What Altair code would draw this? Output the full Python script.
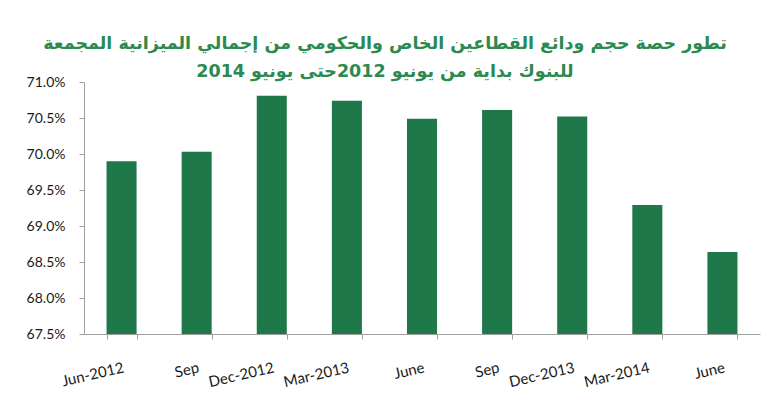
import altair as alt
import pandas as pd

labels = ["Jun-2012", "Sep", "Dec-2012", "Mar-2013", "June", "Sep", "Dec-2013", "Mar-2014", "June"]
values = [69.90, 70.03, 70.81, 70.74, 70.49, 70.61, 70.52, 69.29, 68.64]
y_ticks = [67.5, 68.0, 68.5, 69.0, 69.5, 70.0, 70.5, 71.0]
title_lines = [
    "تطور حصة حجم  ودائع القطاعين  الخاص والحكومي من إجمالي الميزانية المجمعة",
    "للبنوك بداية من يونيو 2012حتى يونيو 2014",
]

df = pd.DataFrame({
    "key": [f"{i}|{l}" for i, l in enumerate(labels)],
    "value": values,
})

bars = alt.Chart(df).mark_bar(color="#1f784a").encode(
    x=alt.X("key:N", sort=None, title=None,
            scale=alt.Scale(paddingInner=0.6, paddingOuter=0.3),
            axis=alt.Axis(labelExpr="split(datum.value, '|')[1]",
                          labelAngle=-13, labelAlign="right", labelBaseline="top",
                          labelPadding=21, tickBand="extent", tickSize=5,
                          domainColor="#a0a0a0", tickColor="#a0a0a0",
                          labelFont="Lato", labelFontSize=15, labelColor="#1a1a1a")),
    y=alt.Y("value:Q", title=None,
            scale=alt.Scale(domain=[67.5, 71.0], zero=False, nice=False),
            axis=alt.Axis(values=y_ticks, labelExpr="format(datum.value, '.1f') + '%'",
                          grid=False, tickSize=5, labelPadding=14,
                          domainColor="#a0a0a0", tickColor="#a0a0a0",
                          labelFont="Lato", labelFontSize=14, labelColor="#1a1a1a")),
    y2=alt.Y2Datum(67.5),
)

chart = bars.properties(
    width=676, height=252,
    autosize=alt.AutoSizeParams(type="none"),
    padding={"left": 84, "top": 82, "right": 10, "bottom": 77},
    background="white",
    title=alt.TitleParams(text=title_lines, font="DejaVu Sans", fontSize=17.5,
                          fontWeight="bold", color="#2b8a4f", anchor="middle",
                          dx=-37, offset=-5, lineHeight=28),
).configure_view(stroke=None)

chart.save("out.html", embed_options={"renderer": "svg", "actions": False})
